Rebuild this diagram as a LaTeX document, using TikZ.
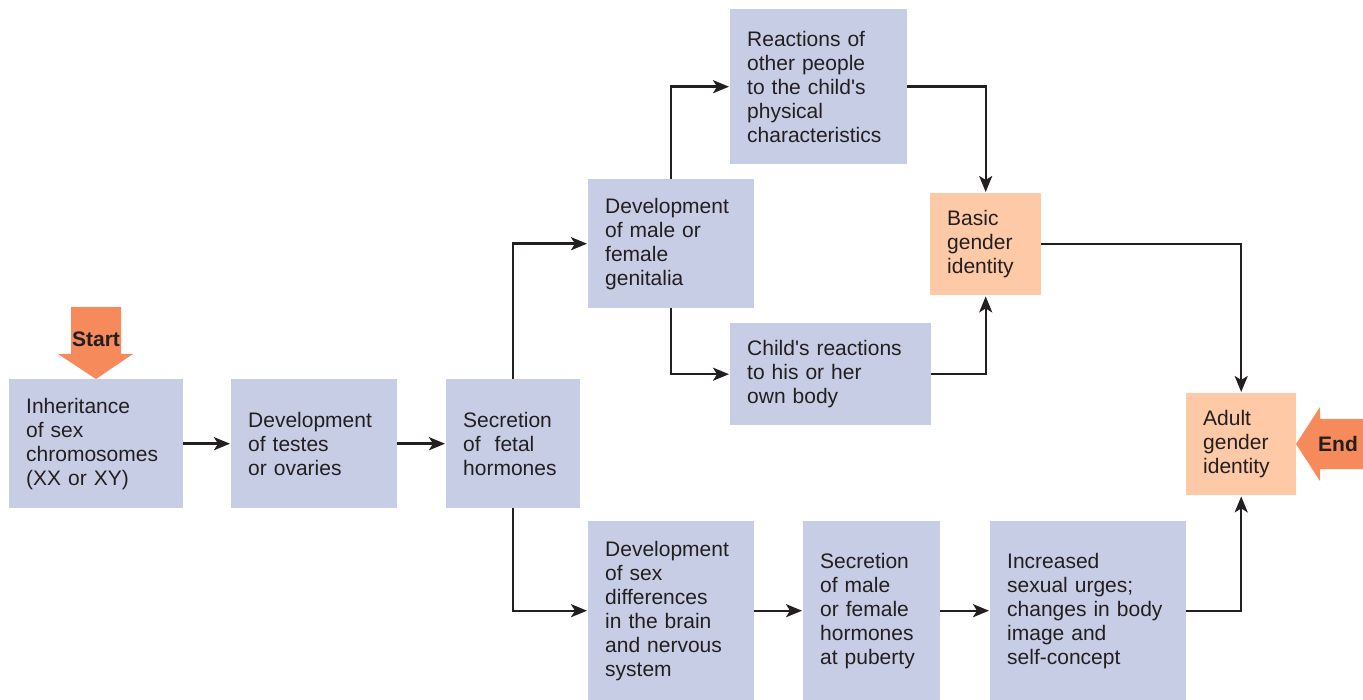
\documentclass[tikz,border=0pt]{standalone}
\usepackage{fontspec}
\setmainfont{Liberation Sans}
\usetikzlibrary{arrows.meta}
\tikzset{>={Stealth[width=13pt,length=16pt,inset=4pt]}}

\definecolor{boxblue}{HTML}{C8CDE6}
\definecolor{boxorange}{HTML}{FDC9A6}
\definecolor{flagorange}{HTML}{F68A5A}
\definecolor{ink}{HTML}{231F20}

\tikzset{
  stage/.style={fill=boxblue, text=ink, align=left, anchor=north west,
    inner xsep=17pt, inner ysep=0pt},
  identity/.style={stage, fill=boxorange},
  link/.style={->, draw=ink, line width=2.4pt, shorten >=1pt},
}

\begin{document}
\begin{tikzpicture}[x=1pt, y=-1pt]

  \fontsize{21}{24}\selectfont
  \newcommand\q{\textquotesingle}

  \useasboundingbox (0,0) rectangle (1363,700);

  %% left chain
  \node[stage, text width=140pt, minimum height=129pt] (inherit) at (9,379)
    {Inheritance\\of sex\\chromosomes\\(XX or XY)};
  \node[stage, text width=132pt, minimum height=129pt] (testes) at (231,379)
    {Development\\of testes\\or ovaries};
  \node[stage, text width=100pt, minimum height=129pt] (fetal) at (446,379)
    {Secretion\\of~ fetal\\hormones};

  %% upper branch
  \node[stage, text width=132pt, minimum height=129pt] (genitalia) at (588,179)
    {Development\\of male or\\female\\genitalia};
  \node[stage, text width=143pt, minimum height=155pt] (others) at (730,9)
    {Reactions of\\other people\\to the child\q s\\physical\\characteristics};
  \node[stage, text width=167pt, minimum height=102pt] (ownbody) at (730,323)
    {Child\q s reactions\\to his or her\\own body};
  \node[identity, text width=77pt, minimum height=102pt] (basic) at (930,193)
    {Basic\\gender\\identity};
  \node[identity, text width=76pt, minimum height=102pt] (adult) at (1186,393)
    {Adult\\gender\\identity};

  %% lower branch
  \node[stage, text width=132pt, minimum height=179pt] (brain) at (588,521)
    {Development\\of sex\\differences\\in the brain\\and nervous\\system};
  \node[stage, text width=103pt, minimum height=179pt] (puberty) at (803,521)
    {Secretion\\of male\\or female\\hormones\\at puberty};
  \node[stage, text width=162pt, minimum height=179pt] (urges) at (990,521)
    {Increased\\sexual urges;\\changes in body\\image and\\self-concept};

  %% start / end flags
  \fill[flagorange] (71,307) -- (121,307) -- (121,354) -- (133,354) -- (96,379)
    -- (58,354) -- (71,354) -- cycle;
  \node[text=ink, font=\bfseries] (start) at (96,339) {Start};
  \fill[flagorange] (1363,419) -- (1320,419) -- (1320,407) -- (1296,444)
    -- (1320,481) -- (1320,469) -- (1363,469) -- cycle;
  \node[text=ink, font=\bfseries] (finish) at (1338,444) {End};

  %% connectors
  \draw[link] (inherit) -- (testes);
  \draw[link] (testes) -- (fetal);
  \draw[link] (fetal.north) |- (genitalia.west);
  \draw[link] (fetal.south) |- (brain.west);
  \draw[link] (genitalia.north) |- (others.west);
  \draw[link] (genitalia.south) |- (ownbody.west);
  \draw[link] (others.east) -| (basic.north);
  \draw[link] (ownbody.east) -| (basic.south);
  \draw[link] (basic.east) -| (adult.north);
  \draw[link] (brain) -- (puberty);
  \draw[link] (puberty) -- (urges);
  \draw[link] (urges.east) -| (adult.south);

\end{tikzpicture}
\end{document}
